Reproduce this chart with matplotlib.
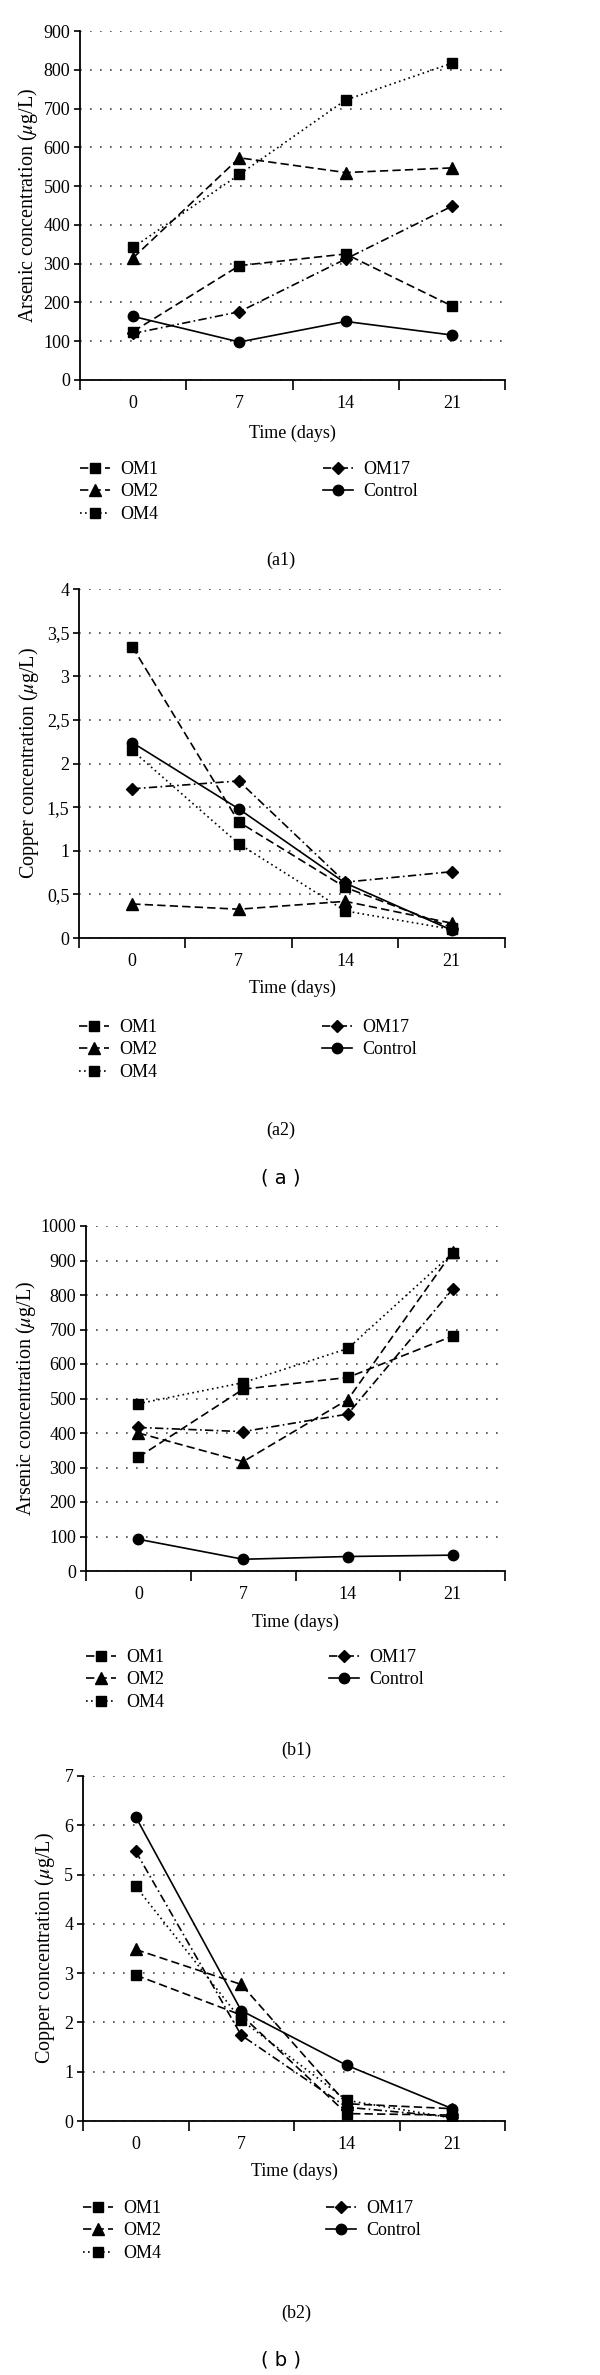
import numpy as np
import matplotlib
matplotlib.use("Agg")
import matplotlib.pyplot as plt

plt.rcParams["font.family"] = ["Liberation Serif", "DejaVu Serif"]
plt.rcParams["mathtext.fontset"] = "stix"
plt.rcParams["font.size"] = 13

days = ['0', '7', '14', '21']
series_names = ['OM1', 'OM2', 'OM4', 'OM17', 'Control']

# (a1) arsenic, ug/L
a1_om1 = [125, 295, 325, 191]
a1_om2 = [315, 573, 535, 547]
a1_om4 = [342, 530, 722, 817]
a1_om17 = [120, 176, 312, 448]
a1_ctrl = [164, 98, 151, 116]

# (a2) copper, ug/L
a2_om1 = [3.34, 1.33, 0.58, 0.12]
a2_om2 = [0.39, 0.33, 0.42, 0.17]
a2_om4 = [2.15, 1.08, 0.31, 0.10]
a2_om17 = [1.71, 1.80, 0.64, 0.76]
a2_ctrl = [2.24, 1.48, 0.63, 0.09]

# (b1) arsenic, ug/L
b1_om1 = [330, 527, 561, 681]
b1_om2 = [400, 317, 497, 925]
b1_om4 = [485, 546, 645, 921]
b1_om17 = [416, 404, 455, 817]
b1_ctrl = [92, 34, 42, 46]

# (b2) copper, ug/L
b2_om1 = [2.96, 2.15, 0.15, 0.12]
b2_om2 = [3.48, 2.77, 0.35, 0.25]
b2_om4 = [4.76, 2.05, 0.42, 0.06]
b2_om17 = [5.47, 1.74, 0.28, 0.08]
b2_ctrl = [6.17, 2.24, 1.13, 0.25]

a1_yticks = [0, 100, 200, 300, 400, 500, 600, 700, 800, 900]
a2_yticks = [0, 0.5, 1, 1.5, 2, 2.5, 3, 3.5, 4]
a2_yticklabels = ['0', '0,5', '1', '1,5', '2', '2,5', '3', '3,5', '4']
b1_yticks = [0, 100, 200, 300, 400, 500, 600, 700, 800, 900, 1000]
b2_yticks = [0, 1, 2, 3, 4, 5, 6, 7]

styles = {
    'OM1': dict(ls=(0, (5, 2.5)), marker='s', ms=6.5),
    'OM2': dict(ls=(0, (5, 2.5)), marker='^', ms=8),
    'OM4': dict(ls=(0, (1, 2)), marker='s', ms=7.5),
    'OM17': dict(ls=(0, (5, 2, 1, 2)), marker='D', ms=6),
    'Control': dict(ls='-', marker='o', ms=7.5),
}

W, H = 600, 2375
fig = plt.figure(figsize=(W / 100, H / 100), dpi=100)


def add_px_axes(left, top, right, bottom):
    return fig.add_axes([left / W, 1 - bottom / H, (right - left) / W, (bottom - top) / H])


def draw_panel(rect, data, yticks, yticklabels, ylabel, ylabel_x, xlabel_y, legend_top, tag, tag_xy):
    left, top, right, bottom = rect
    ax = add_px_axes(left, top, right, bottom)
    x = np.arange(len(days))
    handles = []
    for name, vals in zip(series_names, data):
        st = styles[name]
        line, = ax.plot(x, vals, color='black', lw=1.2, linestyle=st['ls'],
                        marker=st['marker'], markersize=st['ms'],
                        markerfacecolor='black', markeredgecolor='black', label=name)
        handles.append(line)
    ax.set_xlim(-0.5, len(days) - 0.5)
    ax.set_ylim(yticks[0], yticks[-1])
    ax.set_yticks(yticks)
    ax.set_yticklabels(yticklabels if yticklabels else [str(t) for t in yticks])
    ax.set_xticks(np.arange(len(days) + 1) - 0.5)
    ax.set_xticklabels([])
    ax.set_xticks(x, minor=True)
    ax.set_xticklabels(days, minor=True)
    ax.tick_params(axis='x', which='major', length=7, width=1.2, direction='out')
    ax.tick_params(axis='x', which='minor', length=0, pad=11)
    ax.tick_params(axis='y', length=4, width=1.2, pad=3)
    for s in ['top', 'right']:
        ax.spines[s].set_visible(False)
    for s in ['left', 'bottom']:
        ax.spines[s].set_linewidth(1.3)
    ax.yaxis.grid(True, linestyle=(0, (1, 5)), linewidth=1.2, color='#444444')
    ax.set_axisbelow(True)
    ax.set_ylabel(ylabel, fontsize=14.5)
    ax.yaxis.set_label_coords((ylabel_x - left) / (right - left), 0.5)
    ax.set_xlabel('Time (days)')
    ax.xaxis.set_label_coords(0.5, -(xlabel_y - bottom) / (bottom - top))
    ax.xaxis.label.set_va('center')
    ax.yaxis.label.set_va('center')

    kw = dict(loc='upper left', frameon=False, borderpad=0, borderaxespad=0,
              handlelength=1.65, handletextpad=0.6, labelspacing=0.3)
    fig.legend(handles[:3], series_names[:3], bbox_to_anchor=(left / W, 1 - legend_top / H), **kw)
    fig.legend(handles[3:], series_names[3:], bbox_to_anchor=((left + 243) / W, 1 - legend_top / H), **kw)
    fig.text(tag_xy[0] / W, 1 - tag_xy[1] / H, tag, ha='center', va='center')
    return ax


arsenic_label = r'Arsenic concentration ($\mu$g/L)'
copper_label = r'Copper concentration ($\mu$g/L)'

draw_panel((80, 31, 505, 380), [a1_om1, a1_om2, a1_om4, a1_om17, a1_ctrl],
           a1_yticks, None, arsenic_label, 28, 433, 461, '(a1)', (281, 560))
draw_panel((79, 589, 505, 938), [a2_om1, a2_om2, a2_om4, a2_om17, a2_ctrl],
           a2_yticks, a2_yticklabels, copper_label, 29, 988, 1019, '(a2)', (281, 1130))
draw_panel((86, 1226, 505, 1571), [b1_om1, b1_om2, b1_om4, b1_om17, b1_ctrl],
           b1_yticks, None, arsenic_label, 26, 1622, 1649, '(b1)', (296, 1750))
draw_panel((83, 1776, 505, 2121), [b2_om1, b2_om2, b2_om4, b2_om17, b2_ctrl],
           b2_yticks, None, copper_label, 45, 2171, 2200, '(b2)', (296, 2313))

fig.text(281 / W, 1 - 1178 / H, '( a )', ha='center', va='center', family='DejaVu Sans', fontsize=14)
fig.text(281 / W, 1 - 2360 / H, '( b )', ha='center', va='center', family='DejaVu Sans', fontsize=14)

fig.savefig('out.png', dpi=100)
